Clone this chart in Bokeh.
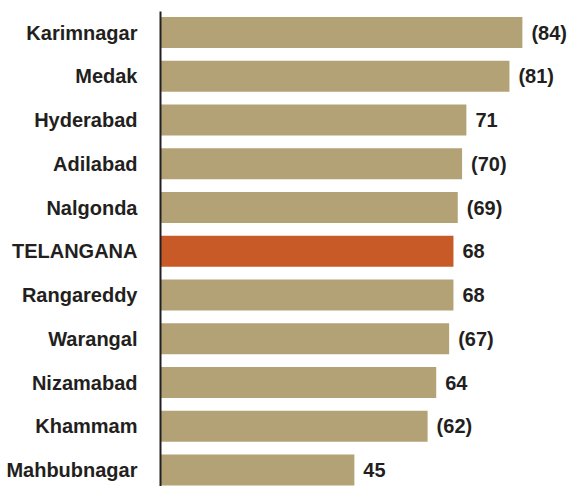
from bokeh.plotting import figure
from bokeh.models import ColumnDataSource, Range1d, FixedTicker
from bokeh.core.properties import value
from bokeh.embed import file_html
from bokeh.resources import INLINE

districts = ["Karimnagar", "Medak", "Hyderabad", "Adilabad", "Nalgonda", "TELANGANA",
             "Rangareddy", "Warangal", "Nizamabad", "Khammam", "Mahbubnagar"]
values = [84, 81, 71, 70, 69, 68, 68, 67, 64, 62, 45]
value_labels = ["(84)", "(81)", "71", "(70)", "(69)", "68", "68", "(67)", "64", "(62)", "45"]

TAN = "#b3a276"
HIGHLIGHT = "#c85a28"
colors = [HIGHLIGHT if d == "TELANGANA" else TAN for d in districts]
pos = list(range(len(districts)))

src = ColumnDataSource(dict(y=pos, v=values, lab=value_labels, c=colors))

p = figure(width=571, height=486, output_backend="svg", toolbar_location=None,
           x_range=Range1d(0, 95.4), y_range=Range1d(10.375, -0.48),
           min_border_left=160, min_border_right=0, min_border_top=11, min_border_bottom=0)

p.hbar(y="y", right="v", left=0, height=0.708, fill_color="c", line_color=None, source=src)
p.text(x="v", y="y", text="lab", source=src, x_offset=9, text_align="left",
       text_baseline="middle", text_font=value("Liberation Sans"), text_font_style="bold",
       text_font_size="20px", text_color="#231f20")

p.xaxis.visible = False
p.xgrid.visible = False
p.ygrid.visible = False
p.outline_line_color = None

ya = p.yaxis[0]
ya.ticker = FixedTicker(ticks=pos)
ya.major_label_overrides = {i: d for i, d in enumerate(districts)}
ya.major_tick_line_color = None
ya.minor_tick_line_color = None
ya.axis_line_color = "#231f20"
ya.axis_line_width = 2
ya.major_label_standoff = 17
ya.major_label_text_font = "Liberation Sans"
ya.major_label_text_font_style = "bold"
ya.major_label_text_font_size = "20px"
ya.major_label_text_color = "#231f20"

open("out.html", "w").write(file_html(p, INLINE))
